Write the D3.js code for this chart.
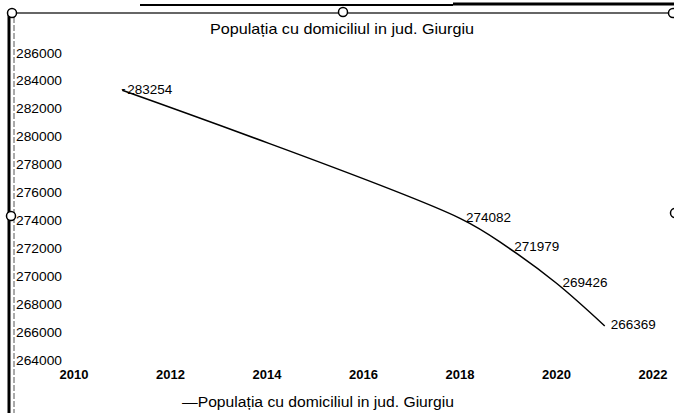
<!DOCTYPE html>
<html><head><meta charset="utf-8">
<script src="https://cdn.jsdelivr.net/npm/d3@7"></script>
<style>body{margin:0;background:#fff}svg{display:block;font-family:Arial,"Liberation Sans",sans-serif}</style>
</head><body>
<script>
const years = [2011, 2018, 2019, 2020, 2021];
const values = [283254, 274082, 271979, 269426, 266369];
const xTicks = [2010, 2012, 2014, 2016, 2018, 2020, 2022];
const yTicks = [264000, 266000, 268000, 270000, 272000, 274000, 276000, 278000, 280000, 282000, 284000, 286000];
const title = "Populația cu domiciliul in jud. Giurgiu";
const seriesName = "Populația cu domiciliul in jud. Giurgiu";

const W = 674, H = 413;
const svg = d3.select("body").append("svg").attr("width", W).attr("height", H);

const x = d3.scaleLinear().domain([2010, 2022]).range([74, 653]);
const y = d3.scaleLinear().domain([264000, 286000]).range([359, 52]);

// frame / selection artifacts
svg.append("line").attr("x1", 140).attr("x2", 453).attr("y1", 5).attr("y2", 5).attr("stroke", "#000").attr("stroke-width", 2);
svg.append("line").attr("x1", 453).attr("x2", 674).attr("y1", 4).attr("y2", 4).attr("stroke", "#000").attr("stroke-width", 3);
svg.append("line").attr("x1", 10).attr("x2", 674).attr("y1", 13).attr("y2", 13).attr("stroke", "#333").attr("stroke-width", 1.3);
svg.append("line").attr("x1", 9).attr("x2", 9).attr("y1", 13).attr("y2", H).attr("stroke", "#000").attr("stroke-width", 3);
svg.append("line").attr("x1", 14).attr("x2", 14).attr("y1", 17).attr("y2", H).attr("stroke", "#555").attr("stroke-width", 1).attr("stroke-dasharray", "6,2");
[[12, 13], [343, 12], [673, 13], [11, 216], [675, 213]].forEach(([cx, cy]) => {
  svg.append("circle").attr("cx", cx).attr("cy", cy).attr("r", 4.5).attr("fill", "#fff").attr("stroke", "#000").attr("stroke-width", 1.5);
});

// title
svg.append("text").attr("x", 342).attr("y", 29).attr("text-anchor", "middle").attr("dominant-baseline", "central")
  .attr("font-size", 14.5).attr("textLength", 264).attr("lengthAdjust", "spacingAndGlyphs")
  .attr("fill", "#000").text(title);

// y tick labels
svg.append("g").selectAll("text").data(yTicks).join("text")
  .attr("x", 16).attr("y", d => y(d) + 1).attr("dominant-baseline", "central")
  .attr("font-size", 13).attr("textLength", 46).attr("lengthAdjust", "spacingAndGlyphs")
  .attr("fill", "#000").text(d => d);

// x tick labels
svg.append("g").selectAll("text").data(xTicks).join("text")
  .attr("x", d => x(d)).attr("y", 374).attr("dominant-baseline", "central").attr("text-anchor", "middle")
  .attr("font-size", 13).attr("font-weight", "bold").attr("fill", "#000").text(d => d);

// line
const pts = years.map((yr, i) => [yr, values[i]]);
svg.append("path").datum(pts)
  .attr("d", d3.line().x(d => x(d[0])).y(d => y(d[1])).curve(d3.curveCatmullRom.alpha(0.5)))
  .attr("fill", "none").attr("stroke", "#000").attr("stroke-width", 1.5);

// data labels
svg.append("g").selectAll("text").data(pts).join("text")
  .attr("x", (d, i) => x(d[0]) + (i === 0 ? 5 : 6)).attr("y", d => y(d[1]) - 1)
  .attr("dominant-baseline", "central").attr("font-size", 13)
  .attr("textLength", 45).attr("lengthAdjust", "spacingAndGlyphs").attr("fill", "#000")
  .text(d => d[1]);
svg.append("text").attr("x", x(years[0]) - 1).attr("y", y(values[0]) - 2).attr("dominant-baseline", "central")
  .attr("font-size", 13).text("-");

// legend
svg.append("text").attr("x", 318).attr("y", 401).attr("text-anchor", "middle").attr("dominant-baseline", "central")
  .attr("font-size", 15.5).attr("textLength", 272).attr("lengthAdjust", "spacingAndGlyphs")
  .attr("fill", "#000").text("—" + seriesName);
</script>
</body></html>
